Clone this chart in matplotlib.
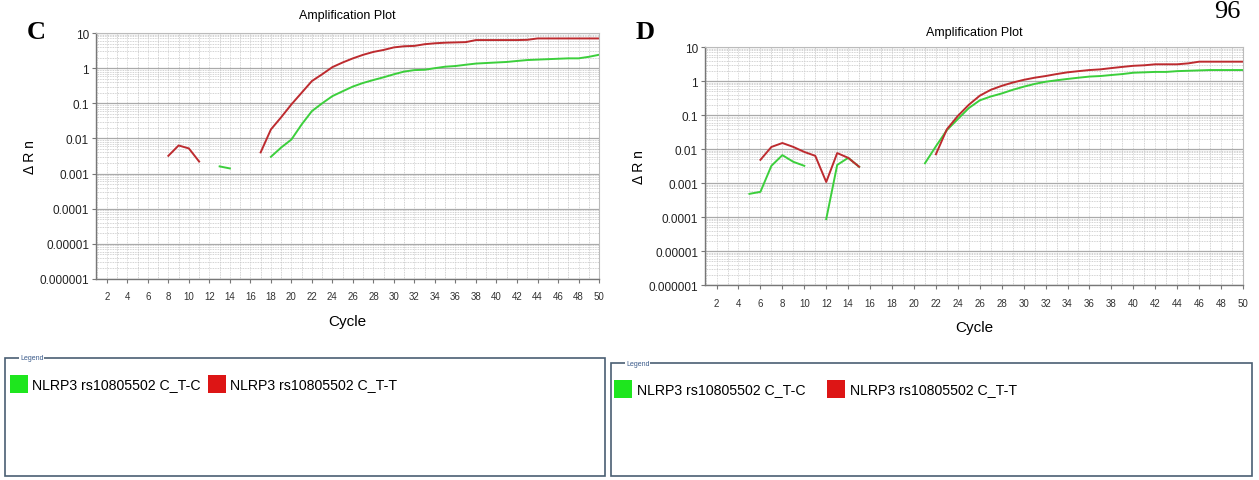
"""Amplification plots (panels C and D) for NLRP3 rs10805502 genotyping."""
import numpy as np
import matplotlib
matplotlib.use("Agg")
import matplotlib.pyplot as plt
from matplotlib.patches import Rectangle
from matplotlib.ticker import LogLocator, FixedLocator, NullFormatter

SANS = ["Liberation Sans", "DejaVu Sans"]
SERIF = ["Liberation Serif", "DejaVu Serif"]

GREEN = "#3ccf3c"
RED = "#bd2b2f"
LABELS = ["NLRP3 rs10805502 C_T-C", "NLRP3 rs10805502 C_T-T"]
YTICKS = [1e-6, 1e-5, 1e-4, 1e-3, 1e-2, 1e-1, 1, 10]
YTICKLABELS = ["0.000001", "0.00001", "0.0001", "0.001", "0.01", "0.1", "1", "10"]
XTICKS = list(range(2, 51, 2))

# each series = list of (first cycle, delta Rn values) segments
C_GREEN = [
    (13, [0.0016, 0.0014]),
    (18, [0.003, 0.0055, 0.0093, 0.025, 0.06, 0.1, 0.16, 0.22, 0.30, 0.38,
          0.46, 0.55, 0.67, 0.8, 0.88, 0.9, 1.0, 1.1, 1.15, 1.25,
          1.35, 1.4, 1.45, 1.5, 1.6, 1.7, 1.75, 1.8, 1.85, 1.9,
          1.9, 2.1, 2.4]),
]
C_RED = [
    (8, [0.0032, 0.0063, 0.0052, 0.0022]),
    (17, [0.004, 0.018, 0.04, 0.093, 0.2, 0.43, 0.67, 1.07, 1.45, 1.9,
          2.4, 2.9, 3.3, 3.9, 4.2, 4.3, 4.8, 5.1, 5.3, 5.4,
          5.5, 6.3, 6.3, 6.3, 6.3, 6.3, 6.4, 7.0, 7.0, 7.0,
          7.0, 7.0, 7.0, 7.0]),
]
D_GREEN = [
    (5, [0.00048, 0.00055, 0.0032, 0.0066, 0.0042, 0.0032]),
    (12, [0.000087, 0.0034, 0.0055, 0.003]),
    (21, [0.0038, 0.012, 0.036, 0.076, 0.16, 0.27, 0.35, 0.43, 0.55, 0.68,
          0.82, 0.95, 1.05, 1.15, 1.25, 1.35, 1.4, 1.5, 1.6, 1.75,
          1.8, 1.85, 1.85, 1.95, 2.0, 2.05, 2.1, 2.1, 2.1, 2.1]),
]
D_RED = [
    (6, [0.0048, 0.0115, 0.015, 0.0115, 0.0082, 0.0063, 0.00107, 0.0076,
         0.0055, 0.003]),
    (22, [0.007, 0.038, 0.094, 0.2, 0.37, 0.55, 0.72, 0.9, 1.08, 1.25,
          1.4, 1.6, 1.8, 1.95, 2.1, 2.2, 2.4, 2.6, 2.8, 2.9,
          3.1, 3.1, 3.1, 3.3, 3.7, 3.7, 3.7, 3.7, 3.7]),
]


def draw_series(ax, segments, color):
    for start, vals in segments:
        x = start + np.arange(len(vals))
        ax.plot(x, vals, color=color, lw=1.4, solid_joinstyle="round")


def amp_panel(fig, rect, green, red, letter, letter_xy, title_y):
    ax = fig.add_axes(rect)
    ax.set_yscale("log")
    ax.set_xlim(0.95, 50)
    ax.set_ylim(1e-6, 10)
    # dense instrument-style grid
    ax.xaxis.set_minor_locator(FixedLocator(range(1, 51)))
    ax.yaxis.set_minor_locator(LogLocator(base=10, subs=np.arange(2, 10)))
    ax.yaxis.set_minor_formatter(NullFormatter())
    ax.grid(which="minor", color="#c4c4c4", lw=0.6, ls=(0, (1, 1)))
    ax.grid(which="major", axis="y", color="#aaaaaa", lw=0.9)
    ax.grid(which="major", axis="x", color="#d0d0d0", lw=0.6, ls=(0, (1, 1)))
    ax.set_axisbelow(True)

    draw_series(ax, green, GREEN)
    draw_series(ax, red, RED)

    ax.set_xticks(XTICKS)
    ax.set_xticklabels([str(t) for t in XTICKS], family=SANS, fontsize=7,
                       color="#333333")
    ax.set_yticks(YTICKS)
    ax.set_yticklabels(YTICKLABELS, family=SANS, fontsize=8.5, color="#222222")
    ax.tick_params(which="major", length=3, color="#777777", pad=2)
    ax.tick_params(which="minor", length=0)
    ax.tick_params(axis="x", pad=6)
    for side in ("left", "bottom"):
        ax.spines[side].set_color("#777777")
        ax.spines[side].set_linewidth(1.0)
    for side in ("top", "right"):
        ax.spines[side].set_color("#bbbbbb")
        ax.spines[side].set_linewidth(0.8)

    ax.set_xlabel("Cycle", family=SANS, fontsize=11, labelpad=9)
    ax.set_ylabel("\u0394 R n", family=SANS, fontsize=10, labelpad=2)
    ax.set_title("Amplification Plot", family=SANS, fontsize=9, y=title_y)
    fig.text(letter_xy[0], letter_xy[1], letter, family=SERIF, fontsize=19,
             fontweight="bold", ha="center", va="center")
    return ax


def legend_box(fig, x0, y0, x1, y1, patch_x, text_x):
    W, H = fig.get_size_inches() * fig.dpi
    fx = lambda px: px / W
    fy = lambda py: 1 - py / H
    fig.patches.append(Rectangle((fx(x0), fy(y1)), fx(x1 - x0), (y1 - y0) / H,
                                 transform=fig.transFigure, fill=False,
                                 ec="#4a5f73", lw=1.2))
    fig.text(fx(x0 + 15), fy(y0), "Legend", family=SANS, fontsize=5,
             color="#3a5a8a", ha="left", va="center",
             bbox=dict(fc="white", ec="none", pad=0.5))
    row_y = y0 + 26
    for px, tx, color, label in zip(patch_x, text_x, ["#1ee61e", "#dd1515"], LABELS):
        fig.patches.append(Rectangle((fx(px), fy(row_y + 9)), fx(18), 18 / H,
                                     transform=fig.transFigure, fc=color, ec="none"))
        fig.text(fx(tx), fy(row_y), label, family=SANS, fontsize=10.2,
                 ha="left", va="center")


fig = plt.figure(figsize=(12.59, 4.81), dpi=100)

amp_panel(fig, [0.0763, 0.4179, 0.3995, 0.5114], C_GREEN, C_RED,
          "C", (0.029, 0.933), 1.028)
amp_panel(fig, [0.5600, 0.4054, 0.4273, 0.4948], D_GREEN, D_RED,
          "D", (0.512, 0.933), 1.015)

legend_box(fig, 5, 359, 605, 477, [10, 208], [32, 230])
legend_box(fig, 611, 364, 1252, 477, [614, 827], [637, 850])

# page number, partly cropped at the top in the source figure
fig.text(0.975, 0.998, "96", family=SERIF, fontsize=19, ha="center", va="top")

fig.savefig("out.png", dpi=100)
